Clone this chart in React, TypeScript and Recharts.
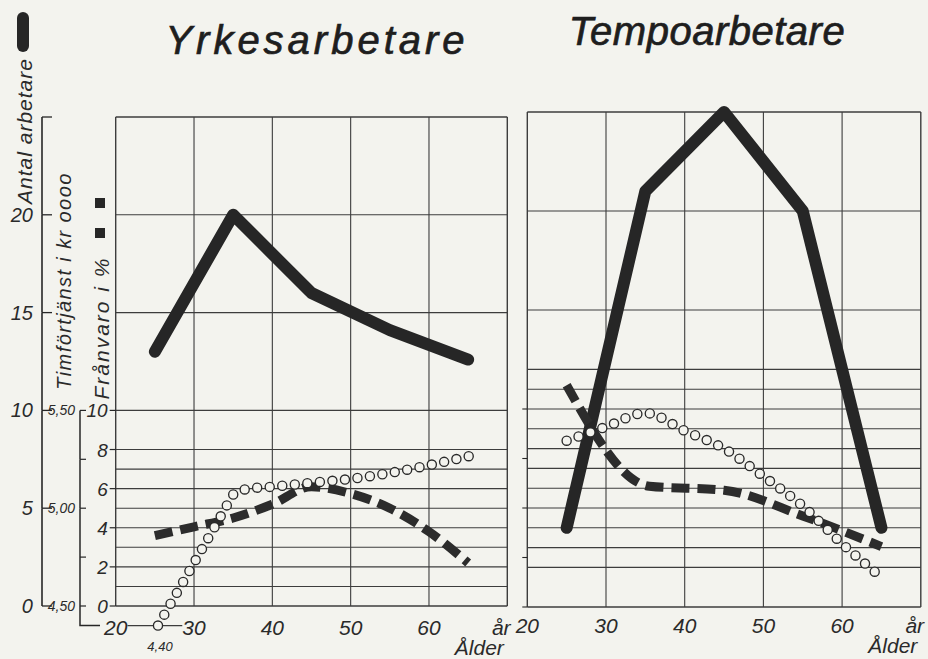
import React from 'react';
import { LineChart, Line, XAxis, YAxis, ReferenceLine } from 'recharts';

const W = 928;
const H = 659;
const BG = '#f3f3ee';
const INK = '#262626';
const GRID = '#3c3c3c';
const FONT = '"Liberation Sans", Arial, sans-serif';

const AGE_TICKS = [20, 30, 40, 50, 60, 70];
const ANTAL_TICKS = [0, 5, 10, 15, 20, 25];
const KR_TICKS = [4.5, 4.75, 5.0, 5.25, 5.5];
const FRANVARO_TICKS = [0, 2, 4, 6, 8, 10];

// horizontal rules, in antal / % units (both share one scale)
const YRKE_GRID_Y = [0, 1, 2, 3, 4, 5, 6, 7, 8, 10, 15, 20, 25];
const TEMPO_GRID_Y = [0, 2, 3, 4, 5, 6, 7, 8, 9, 10, 11, 12, 15, 20, 25];

// Yrkesarbetare
const yrkeAntalAges = [25, 35, 45, 55, 65];
const yrkeAntal = [13.0, 20.0, 16.0, 14.1, 12.6];
const yrkeKrAges = [25.4, 30, 34, 35, 37, 40, 45, 50, 55, 60, 65.5];
const yrkeKr = [4.4, 4.72, 5.0, 5.07, 5.1, 5.11, 5.13, 5.15, 5.18, 5.22, 5.27];
const yrkeFranvaroAges = [25, 30, 35, 40, 45, 50, 55, 60, 65];
const yrkeFranvaro = [3.6, 4.05, 4.5, 5.2, 6.1, 5.75, 5.0, 3.8, 2.2];

// Tempoarbetare
const tempoAntalAges = [25, 35, 45, 55, 65];
const tempoAntal = [4.0, 21.0, 25.0, 20.0, 4.0];
const tempoKrAges = [25, 30, 35, 40, 45, 50, 55, 60, 65];
const tempoKr = [5.34, 5.41, 5.48, 5.39, 5.3, 5.16, 5.01, 4.82, 4.65];
const tempoFranvaroAges = [25, 35.5, 45, 55, 65];
const tempoFranvaro = [11.2, 6.1, 5.9, 4.6, 3.05];

const ANTAL_MIN = -1.5;
const ANTAL_MAX = 25;
const KR_MIN = 4.35; // 4,50 kr sits on antal 0, 0,10 kr per antal unit
const KR_MAX = 7.0;

// axis ids sort innermost-first
const ID_FR = 'a-franvaro';
const ID_KR = 'b-kr';
const ID_AN = 'c-antal';

const zip = (ages: number[], vals: number[]) => ages.map((age, i) => ({ age, v: vals[i] }));

const txt = { fontFamily: FONT, fontStyle: 'italic' as const, fill: '#2a2a2a' };

type PanelProps = {
  x: number;
  top: number;
  zeroY: number;
  plotLeft: number;
  plotRight: number;
  labelDy: number;
  showAxes: boolean;
  gridY: number[];
  antal: { age: number; v: number }[];
  kr: { age: number; v: number }[];
  franvaro: { age: number; v: number }[];
};

function Panel(p: PanelProps) {
  const ppu = (p.zeroY - p.top) / ANTAL_MAX;
  const plotBottom = p.zeroY - ANTAL_MIN * ppu;
  const xAxisH = H - plotBottom;
  const width = p.plotRight + 6 - p.x;
  const krPx = ppu * 10;
  const pxPerYear = (p.plotRight - p.plotLeft) / 50;

  const xTick = ({ x, y, payload }: any) => {
    if (payload.value === 70) {
      return (
        <g>
          <text x={x - 6} y={y + p.labelDy} textAnchor="middle" fontSize={21} {...txt}>år</text>
          <text x={x - 28} y={y + p.labelDy + 20} textAnchor="middle" fontSize={21} {...txt}>Ålder</text>
        </g>
      );
    }
    return (
      <text x={x} y={y + p.labelDy} textAnchor="middle" fontSize={21} {...txt}>
        {payload.value}
      </text>
    );
  };

  const antalTick = ({ x, y, payload }: any) => (
    <g>
      <line x1={x} x2={x + 10} y1={y} y2={y} stroke={INK} strokeWidth={1.3} />
      {payload.value < 25 && (
        <line x1={x} x2={x} y1={y} y2={y - 5 * ppu} stroke={INK} strokeWidth={1.6} />
      )}
      {payload.value < 25 && (
        <text x={x - 9} y={y + 7} textAnchor="end" fontSize={20} {...txt}>{payload.value}</text>
      )}
    </g>
  );

  const krTick = ({ x, y, payload }: any) => {
    const v = payload.value;
    const labelled = v === 4.5 || v === 5 || v === 5.5;
    return (
      <g>
        <line x1={x} x2={x + 6} y1={y} y2={y} stroke={INK} strokeWidth={1.2} />
        {v < 5.5 && <line x1={x} x2={x} y1={y} y2={y - 0.25 * krPx} stroke={INK} strokeWidth={1.5} />}
        {v === 4.5 && (
          <polyline
            points={`${x},${y} ${x},${y + 0.1 * krPx} ${x + 20},${y + 0.1 * krPx}`}
            fill="none"
            stroke={INK}
            strokeWidth={1.5}
          />
        )}
        {labelled && (
          <text x={x - 5} y={y + 5} textAnchor="end" fontSize={14} {...txt}>
            {v.toFixed(2).replace('.', ',')}
          </text>
        )}
      </g>
    );
  };

  const franvaroTick = ({ x, y, payload }: any) => (
    <g>
      <line x1={x - 6} x2={x} y1={y} y2={y} stroke={INK} strokeWidth={1.2} />
      <text x={x - 8} y={y + 7} textAnchor="end" fontSize={19} {...txt}>{payload.value}</text>
    </g>
  );

  const krStartLabel = (props: any) =>
    props.index === 0 && p.showAxes ? (
      <text x={props.x + 2} y={props.y + 25} textAnchor="middle" fontSize={13} {...txt}>4,40</text>
    ) : (
      <g />
    );

  return (
    <div style={{ position: 'absolute', left: p.x, top: 0 }}>
      <LineChart
        width={width}
        height={H}
        margin={{ top: p.top, right: 6, bottom: 0, left: p.showAxes ? 0 : p.plotLeft - p.x }}
      >
        <XAxis
          type="number"
          dataKey="age"
          domain={[20, 70]}
          ticks={AGE_TICKS}
          interval={0}
          axisLine={false}
          tickLine={false}
          tickSize={0}
          tickMargin={0}
          height={xAxisH}
          tick={xTick}
        />
        <YAxis
          yAxisId={ID_FR}
          type="number"
          domain={[ANTAL_MIN, ANTAL_MAX]}
          ticks={FRANVARO_TICKS}
          interval={0}
          hide={!p.showAxes}
          width={p.plotLeft - p.x - 80}
          axisLine={false}
          tickLine={false}
          tickSize={0}
          tickMargin={0}
          tick={franvaroTick}
        />
        <YAxis
          yAxisId={ID_KR}
          type="number"
          domain={[KR_MIN, KR_MAX]}
          ticks={KR_TICKS}
          interval={0}
          hide={!p.showAxes}
          width={38}
          axisLine={false}
          tickLine={false}
          tickSize={0}
          tickMargin={0}
          tick={krTick}
        />
        <YAxis
          yAxisId={ID_AN}
          type="number"
          domain={[ANTAL_MIN, ANTAL_MAX]}
          ticks={ANTAL_TICKS}
          interval={0}
          hide={!p.showAxes}
          width={42}
          axisLine={false}
          tickLine={false}
          tickSize={0}
          tickMargin={0}
          tick={antalTick}
        />

        {p.gridY.map((g) => (
          <ReferenceLine
            key={`h${g}`}
            yAxisId={ID_AN}
            segment={[{ x: 20, y: g }, { x: 70, y: g }]}
            stroke={GRID}
            strokeWidth={g === 0 || g === 25 ? 1.4 : 1.1}
            ifOverflow="visible"
          />
        ))}
        {AGE_TICKS.map((a) => (
          <ReferenceLine
            key={`v${a}`}
            yAxisId={ID_AN}
            segment={[{ x: a, y: 0 }, { x: a, y: 25 }]}
            stroke={GRID}
            strokeWidth={a === 20 || a === 70 ? 1.4 : 1.1}
            ifOverflow="visible"
          />
        ))}
        {p.showAxes && (
          <ReferenceLine
            yAxisId={ID_KR}
            segment={[{ x: 21.5, y: 4.4 }, { x: 28.5, y: 4.4 }]}
            stroke={GRID}
            strokeWidth={1.2}
            ifOverflow="visible"
          />
        )}
        {!p.showAxes &&
          KR_TICKS.map((k) => (
            <ReferenceLine
              key={`k${k}`}
              yAxisId={ID_KR}
              segment={[{ x: 20 - 5 / pxPerYear, y: k }, { x: 20, y: k }]}
              stroke={INK}
              strokeWidth={1.1}
              ifOverflow="visible"
            />
          ))}

        <Line
          yAxisId={ID_AN}
          data={p.antal}
          dataKey="v"
          type="linear"
          stroke={INK}
          strokeWidth={12}
          strokeLinecap="round"
          strokeLinejoin="round"
          dot={false}
          activeDot={false}
          isAnimationActive={false}
        />
        <Line
          yAxisId={ID_FR}
          data={p.franvaro}
          dataKey="v"
          type="monotone"
          stroke="#2c2c2c"
          strokeWidth={9}
          strokeDasharray="18 8"
          dot={false}
          activeDot={false}
          isAnimationActive={false}
        />
        <Line
          yAxisId={ID_KR}
          data={p.kr}
          dataKey="v"
          type="monotone"
          stroke="#2a2a2a"
          strokeWidth={10.5}
          strokeDasharray="0 12.6"
          strokeLinecap="round"
          dot={false}
          activeDot={false}
          isAnimationActive={false}
          label={krStartLabel}
        />
        <Line
          yAxisId={ID_KR}
          data={p.kr}
          dataKey="v"
          type="monotone"
          stroke={BG}
          strokeWidth={7.8}
          strokeDasharray="0 12.6"
          strokeLinecap="round"
          dot={false}
          activeDot={false}
          isAnimationActive={false}
        />
      </LineChart>
    </div>
  );
}

export default function App() {
  return (
    <div style={{ position: 'absolute', left: 0, top: 0, width: W, height: H, background: BG, overflow: 'hidden' }}>
      <Panel
        x={0}
        top={117}
        zeroY={606}
        plotLeft={115.7}
        plotRight={507.3}
        labelDy={0}
        showAxes
        gridY={YRKE_GRID_Y}
        antal={zip(yrkeAntalAges, yrkeAntal)}
        kr={zip(yrkeKrAges, yrkeKr)}
        franvaro={zip(yrkeFranvaroAges, yrkeFranvaro)}
      />
      <Panel
        x={500}
        top={112}
        zeroY={607}
        plotLeft={527.3}
        plotRight={920.8}
        labelDy={-3.5}
        showAxes={false}
        gridY={TEMPO_GRID_Y}
        antal={zip(tempoAntalAges, tempoAntal)}
        kr={zip(tempoKrAges, tempoKr)}
        franvaro={zip(tempoFranvaroAges, tempoFranvaro)}
      />
      <svg width={W} height={H} style={{ position: 'absolute', left: 0, top: 0, pointerEvents: 'none' }}>
        <text x={317} y={54} textAnchor="middle" fontSize={40} letterSpacing={4} {...txt} fill="#1e1e1e" stroke="#1e1e1e" strokeWidth={0.7}>
          Yrkesarbetare
        </text>
        <text x={707} y={45} textAnchor="middle" fontSize={40} letterSpacing={0.5} {...txt} fill="#1e1e1e" stroke="#1e1e1e" strokeWidth={0.7}>
          Tempoarbetare
        </text>

        <rect x={17} y={12} width={12} height={40} rx={6} fill={INK} />
        <text transform="translate(24,131) rotate(-90)" textAnchor="middle" dominantBaseline="central" fontSize={21} letterSpacing={1} {...txt}>
          Antal arbetare
        </text>
        <text transform="translate(64,281) rotate(-90)" textAnchor="middle" dominantBaseline="central" fontSize={20} letterSpacing={1.4} {...txt}>
          Timförtjänst i kr oooo
        </text>
        <rect x={95} y={198} width={10} height={10} fill={INK} />
        <rect x={95} y={228} width={10} height={10} fill={INK} />
        <text transform="translate(101,328) rotate(-90)" textAnchor="middle" dominantBaseline="central" fontSize={21} letterSpacing={2} {...txt}>
          Frånvaro i %
        </text>
      </svg>
    </div>
  );
}
